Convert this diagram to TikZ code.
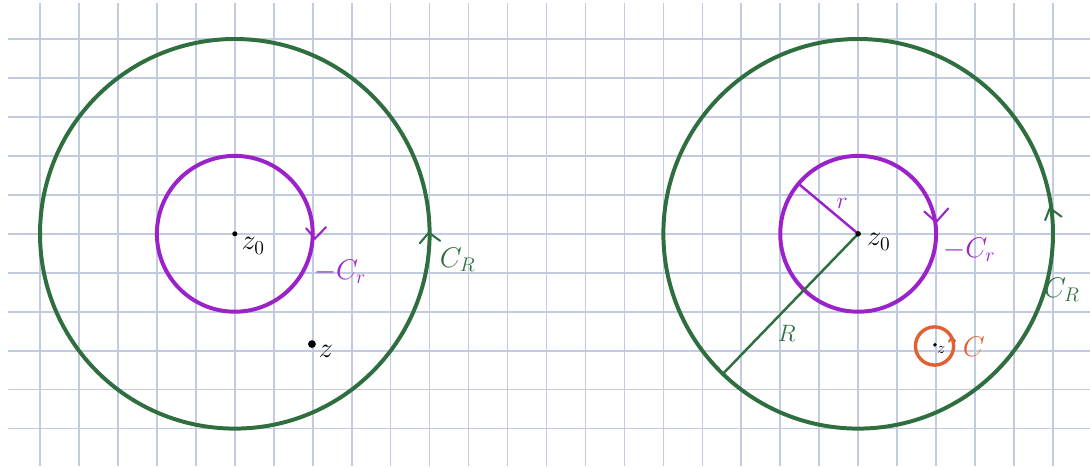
\documentclass[tikz,border=0pt]{standalone}
\usepackage{amsmath,amssymb}
\usetikzlibrary{arrows.meta,positioning}
\definecolor{gridblue}{RGB}{194,203,223}
\definecolor{contgreen}{RGB}{47,110,63}
\definecolor{contpurple}{RGB}{155,34,200}
\definecolor{contorange}{RGB}{224,98,50}

\begin{document}
\begin{tikzpicture}[x=1cm,y=1cm,
    gridline/.style={gridblue, line width=1.2pt},
    biglbl/.style={font=\fontsize{21}{24}\selectfont},
    smalllbl/.style={font=\fontsize{16}{18}\selectfont},
    tinylbl/.style={font=\fontsize{13}{15}\selectfont}]
    \useasboundingbox (-1.027,1.001) rectangle (26.95,-10.96);

    % grid paper
    \foreach \y in {0,...,10} {
        \draw[gridline] (-0.82,-\y) -- (26.95,-\y);
    }
    \foreach \x in {0,...,26} {
        \draw[gridline] (\x,0.92) -- (\x,-10.96);
    }

    % centres
    \coordinate (zl) at (5,-5);
    \coordinate (zr) at (21,-5);

    % left picture
    \draw[contgreen, line width=2.9pt] (zl) circle (5);
    \draw[contpurple, line width=2.9pt] (zl) circle (2);
    \fill (zl) circle (0.065);
    \node[biglbl] (zlabl) at (5.47,-5.31) {$z_0$};
    \draw[contpurple, line width=1.5pt, line cap=round] (6.83,-4.86) -- (7.06,-5.12) -- (7.34,-4.83);
    \node[biglbl, contpurple] (crl) at (7.70,-5.98) {$-C_r$};
    \draw[contgreen, line width=1.5pt, line cap=round] (9.75,-5.24) -- (9.98,-4.97) -- (10.27,-5.18);
    \node[biglbl, contgreen] (cbigl) at (10.72,-5.67) {$C_R$};
    \coordinate (zptl) at (6.98,-7.83);
    \fill (zptl) circle (0.1);
    \node[biglbl] (zlbl) at (7.34,-8.03) {$z$};

    % right picture
    \draw[contgreen, line width=2.9pt] (zr) circle (5);
    \draw[contpurple, line width=2.9pt] (zr) circle (2);
    \draw[contpurple, line width=1.8pt] (zr) -- ++(140:2) coordinate (rend);
    \node[smalllbl, contpurple] (rlbl) at (20.59,-4.21) {$r$};
    \draw[contgreen, line width=1.8pt] (zr) -- ++(226:5) coordinate (Rend);
    \node[smalllbl, contgreen] (Rlbl) at (19.17,-7.55) {$R$};
    \fill (zr) circle (0.07);
    \node[biglbl] (zlabr) at (21.53,-5.21) {$z_0$};
    \draw[contpurple, line width=1.5pt, line cap=round] (22.70,-4.43) -- (23.0,-4.7) -- (23.31,-4.35);
    \node[biglbl, contpurple] (crr) at (23.85,-5.42) {$-C_r$};
    \draw[contgreen, line width=1.5pt, line cap=round] (25.80,-4.65) -- (25.92,-4.34) -- (26.22,-4.56);
    \node[biglbl, contgreen] (cbigr) at (26.23,-6.44) {$C_R$};

    % small contour round z
    \coordinate (zc) at (22.96,-7.88);
    \draw[contorange, line width=2.5pt] (zc) circle (0.49);
    \fill (22.97,-7.85) circle (0.05);
    \node[tinylbl] (zlbr) at (23.13,-7.98) {$z$};
    \draw[contorange, line width=1.4pt, line cap=round] (23.33,-7.77) -- (23.39,-7.66) -- (23.49,-7.75);
    \node[biglbl, contorange] (clbl) at (23.97,-7.9) {$C$};
\end{tikzpicture}
\end{document}
